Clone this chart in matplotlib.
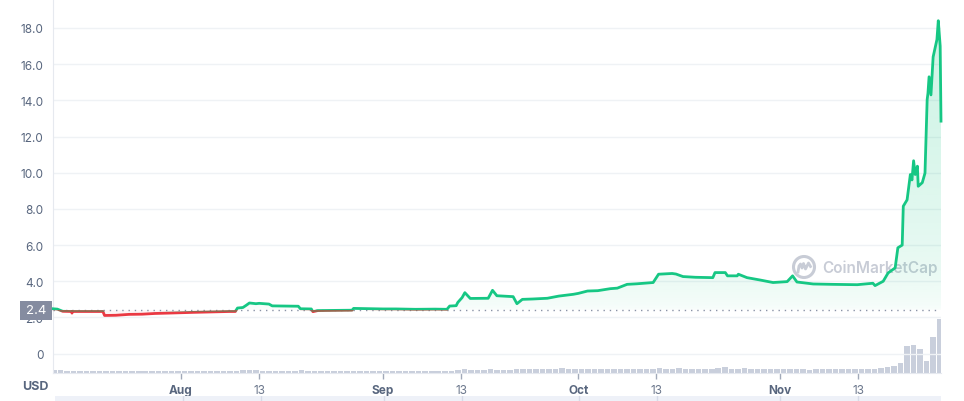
import numpy as np
import pandas as pd
import matplotlib
matplotlib.use("Agg")
import matplotlib.pyplot as plt
import matplotlib.dates as mdates
from matplotlib.patches import Rectangle, Circle
from matplotlib.path import Path
from matplotlib.lines import Line2D
from matplotlib.ticker import FuncFormatter
from matplotlib.transforms import IdentityTransform

plt.rcParams['font.family'] = ['Inter', 'DejaVu Sans']

# price line
price_times = [
    "2021-07-12 08:00", "2021-07-13 00:00", "2021-07-13 20:00", "2021-07-15 04:00",
    "2021-07-15 06:00", "2021-07-15 08:00", "2021-07-20 00:00", "2021-07-20 06:00",
    "2021-07-22 00:00", "2021-07-24 00:00", "2021-07-26 00:00", "2021-07-28 00:00",
    "2021-07-30 00:00", "2021-08-02 18:00", "2021-08-05 00:00", "2021-08-08 12:00",
    "2021-08-09 08:00", "2021-08-09 16:00", "2021-08-10 12:00", "2021-08-11 00:00",
    "2021-08-11 12:00", "2021-08-12 12:00", "2021-08-13 00:00", "2021-08-14 12:00",
    "2021-08-15 00:00", "2021-08-19 00:00", "2021-08-19 08:00", "2021-08-21 00:00",
    "2021-08-21 06:00", "2021-08-22 00:00", "2021-08-27 06:00", "2021-08-27 12:00",
    "2021-09-01 00:00", "2021-09-03 00:00", "2021-09-06 00:00", "2021-09-09 00:00",
    "2021-09-10 20:00", "2021-09-11 06:00", "2021-09-12 06:00", "2021-09-12 12:00",
    "2021-09-13 04:00", "2021-09-13 14:00", "2021-09-14 10:00", "2021-09-17 04:00",
    "2021-09-17 20:00", "2021-09-18 12:00", "2021-09-21 00:00", "2021-09-21 14:00",
    "2021-09-22 10:00", "2021-09-24 00:00", "2021-09-26 06:00", "2021-09-28 00:00",
    "2021-09-30 06:00", "2021-10-01 00:00", "2021-10-02 10:00", "2021-10-04 00:00",
    "2021-10-05 22:00", "2021-10-07 00:00", "2021-10-08 12:00", "2021-10-10 00:00",
    "2021-10-12 12:00", "2021-10-13 08:00", "2021-10-15 10:00", "2021-10-16 00:00",
    "2021-10-17 02:00", "2021-10-19 00:00", "2021-10-21 16:00", "2021-10-22 00:00",
    "2021-10-23 14:00", "2021-10-23 22:00", "2021-10-25 10:00", "2021-10-25 14:00",
    "2021-10-26 22:00", "2021-10-28 22:00", "2021-10-30 22:00", "2021-11-02 02:00",
    "2021-11-02 22:00", "2021-11-03 14:00", "2021-11-06 02:00", "2021-11-09 00:00",
    "2021-11-12 20:00", "2021-11-15 06:00", "2021-11-15 14:00", "2021-11-16 20:00",
    "2021-11-17 14:00", "2021-11-18 16:00", "2021-11-19 02:00", "2021-11-19 18:00",
    "2021-11-19 22:00", "2021-11-20 12:00", "2021-11-21 00:00", "2021-11-21 06:00",
    "2021-11-21 12:00", "2021-11-21 18:00", "2021-11-22 02:00", "2021-11-22 05:00",
    "2021-11-22 20:00", "2021-11-23 06:00", "2021-11-23 14:00", "2021-11-23 17:00",
    "2021-11-23 21:00", "2021-11-24 04:00", "2021-11-24 12:00", "2021-11-25 02:00",
    "2021-11-25 07:00", "2021-11-25 14:00", "2021-11-25 17:00",
]
price_values = [
    2.48, 2.46, 2.34, 2.33,
    2.24, 2.33, 2.33, 2.11,
    2.12, 2.17, 2.18, 2.22,
    2.24, 2.28, 2.30, 2.33,
    2.33, 2.52, 2.55, 2.67,
    2.80, 2.76, 2.78, 2.74,
    2.64, 2.62, 2.48, 2.47,
    2.32, 2.38, 2.40, 2.50,
    2.47, 2.47, 2.45, 2.46,
    2.45, 2.63, 2.65, 2.83,
    3.10, 3.37, 3.05, 3.06,
    3.50, 3.20, 3.15, 2.76,
    3.00, 3.02, 3.06, 3.18,
    3.28, 3.33, 3.46, 3.48,
    3.59, 3.62, 3.83, 3.86,
    3.93, 4.39, 4.43, 4.40,
    4.26, 4.22, 4.20, 4.48,
    4.48, 4.30, 4.30, 4.39,
    4.20, 4.07, 3.93, 3.98,
    4.30, 3.96, 3.85, 3.83,
    3.81, 3.89, 3.76, 4.00,
    4.46, 4.74, 5.85, 6.00,
    8.15, 8.50, 9.90, 9.60,
    10.66, 9.90, 10.36, 9.25,
    9.45, 9.98, 14.04, 14.40,
    15.30, 14.30, 16.40, 17.36,
    18.40, 17.00, 12.85,
]
base_price = 2.4

# daily volume (relative), Jul 12 .. Nov 25
volume_start = "2021-07-12"
volume_values = [
    3, 3, 2, 2, 2, 2, 2,
    2, 2, 2, 2, 2, 2, 2,
    2, 2, 2, 2, 2, 2, 2,
    2, 2, 2, 2, 2, 2, 2,
    2, 3, 3, 3, 2, 2, 2,
    2, 2, 2, 3, 2, 2, 2,
    2, 2, 2, 2, 2, 2, 2,
    2, 2, 2, 2, 2, 2, 2,
    2, 2, 2, 2, 2, 2, 3,
    4, 3, 3, 3, 4, 3, 3,
    3, 4, 4, 4, 4, 4, 4,
    4, 5, 4, 4, 4, 4, 4,
    4, 4, 4, 4, 4, 4, 4,
    4, 4, 5, 4, 4, 5, 4,
    4, 4, 4, 4, 5, 6, 4,
    4, 5, 4, 4, 4, 4, 4,
    4, 4, 4, 4, 3, 4, 4,
    4, 4, 4, 4, 4, 4, 4,
    4, 5, 6, 7, 10, 27, 28,
    24, 12, 36, 54,
]

y_ticks = [0, 2, 4, 6, 8, 10, 12, 14, 16, 18]
x_tick_dates = ["2021-08-01", "2021-08-13", "2021-09-01", "2021-09-13",
                "2021-10-01", "2021-10-13", "2021-11-01", "2021-11-13"]
x_tick_labels = ["Aug", "13", "Sep", "13", "Oct", "13", "Nov", "13"]

GREEN = '#16c784'
RED = '#ea3943'
TXT = '#58667e'
GRID = '#eff2f5'

t = mdates.date2num(pd.to_datetime(price_times))
p = np.array(price_values)
vt = mdates.date2num(pd.date_range(volume_start, periods=len(volume_values), freq='D'))
ticks = mdates.date2num(pd.to_datetime(x_tick_dates))

fig = plt.figure(figsize=(9.64, 4.02), dpi=100)
rect = [53 / 964, 28 / 402, 888 / 964, 374 / 402]

# volume panel underneath
axv = fig.add_axes(rect)
axv.bar(vt + 0.5, volume_values, width=0.85, color='#c9cfdc', linewidth=0)
axv.set_xlim(t[0], t[-1])
axv.set_ylim(0, 374)
axv.axis('off')

ax = fig.add_axes(rect)
ax.patch.set_alpha(0)
ax.set_xlim(t[0], t[-1])
ax.set_ylim(-1.07, 19.6)

# gradient fill above baseline
fb = ax.fill_between(t, p, base_price, where=p >= base_price, interpolate=True,
                     facecolor='none', edgecolor='none')
clip = Path.make_compound_path(*fb.get_paths())
n = 256
rgba = np.zeros((n, 1, 4))
rgba[:, 0, :3] = matplotlib.colors.to_rgb(GREEN)
rgba[:, 0, 3] = 0.02 + 0.2 * np.sqrt(np.linspace(0, 1, n))
img = ax.imshow(rgba, extent=[t[0], t[-1], base_price, 19.6], origin='lower',
                aspect='auto', zorder=2, interpolation='bilinear')
img.set_clip_path(clip, ax.transData)
ax.fill_between(t, p, base_price, where=p < base_price, interpolate=True,
                facecolor=RED, alpha=0.05, edgecolor='none', zorder=2)
ax.set_xlim(t[0], t[-1])
ax.set_ylim(-1.07, 19.6)

ax.axhline(base_price, color='#8a93a6', lw=1, ls=(0, (1, 3.5)), zorder=3)

w = t[-1] - t[0] + 20
g_line, = ax.plot(t, p, color=GREEN, lw=2, zorder=4, solid_joinstyle='round')
g_line.set_clip_path(Rectangle((t[0] - 10, base_price), w, 40, transform=ax.transData))
r_line, = ax.plot(t, p, color=RED, lw=2, zorder=4, solid_joinstyle='round')
r_line.set_clip_path(Rectangle((t[0] - 10, -10), w, 10 + base_price - 0.09,
                               transform=ax.transData))
b_line, = ax.plot(t, p, color='#94674f', lw=2, zorder=4, solid_joinstyle='round')
b_line.set_clip_path(Rectangle((t[0] - 10, base_price - 0.09), w, 0.09,
                               transform=ax.transData))

# axes styling
ax.set_yticks(y_ticks)
ax.yaxis.set_major_formatter(FuncFormatter(lambda v, _: '0' if v == 0 else f'{v:.1f}'))
ax.yaxis.grid(True, color=GRID, lw=1)
ax.set_axisbelow(True)
ax.tick_params(axis='y', length=0, pad=7, labelsize=8.5, labelcolor=TXT)
ax.set_xticks(ticks)
ax.set_xticklabels(x_tick_labels)
ax.tick_params(axis='x', length=4, width=1, color='#a1a9b9', pad=4,
               labelsize=8.5, labelcolor=TXT)
for lbl in ax.get_xticklabels():
    if lbl.get_text() != '13':
        lbl.set_fontweight('bold')
    else:
        lbl.set_color('#6b778c')
for s in ['top', 'right']:
    ax.spines[s].set_visible(False)
ax.spines['left'].set_color('#e6e9ef')
ax.spines['bottom'].set_color('#e6e9ef')

# watermark
ax.text((822 - 53) / 888, (374 - 268) / 374, 'CoinMarketCap', transform=ax.transAxes,
        ha='left', va='center', fontsize=11, fontweight='semibold',
        color='#c8ccd6', zorder=1)
cx, cy = 804, 402 - 268
ax.add_artist(Circle((cx, cy), 10.5, transform=IdentityTransform(), fill=False,
                     ec='#c8ccd6', lw=2.2, zorder=1))
mx = [-6, -5, -3.5, -2, -0.5, 1.5, 3, 4.5, 6.5]
my = [-5, 1, 3, -1, 3.5, -2, 1, 4, 0.5]
ax.add_artist(Line2D([cx + v for v in mx], [cy + v for v in my], transform=IdentityTransform(),
                     color='#c8ccd6', lw=2, zorder=1, solid_joinstyle='round'))

# current price label box
px = ax.transAxes.transform((0, 0))[0]
py = ax.transData.transform((0, base_price))[1]
fig.add_artist(Rectangle((px - 33, py - 9.5), 32, 19, transform=IdentityTransform(),
                         fc='#858ca0', ec='none', zorder=10))
fig.text(px - 17, py, '2.4', transform=IdentityTransform(), ha='center', va='center',
         color='white', fontsize=9.5, zorder=11)

fig.text(35 / 964, 1 - 387 / 402, 'USD', ha='center', va='center', fontsize=9,
         fontweight='bold', color=TXT)

# navigator strip at the very bottom
axn = fig.add_axes([55 / 964, 0, 886 / 964, 5 / 402])
axn.set_facecolor('#eef1f8')
axn.set_xlim(t[0], t[-1])
for x in ticks:
    axn.axvline(x, color='#d6dbe8', lw=1)
axn.set_xticks([])
axn.set_yticks([])
for s in axn.spines.values():
    s.set_visible(False)

fig.savefig('out.png', dpi=100)
